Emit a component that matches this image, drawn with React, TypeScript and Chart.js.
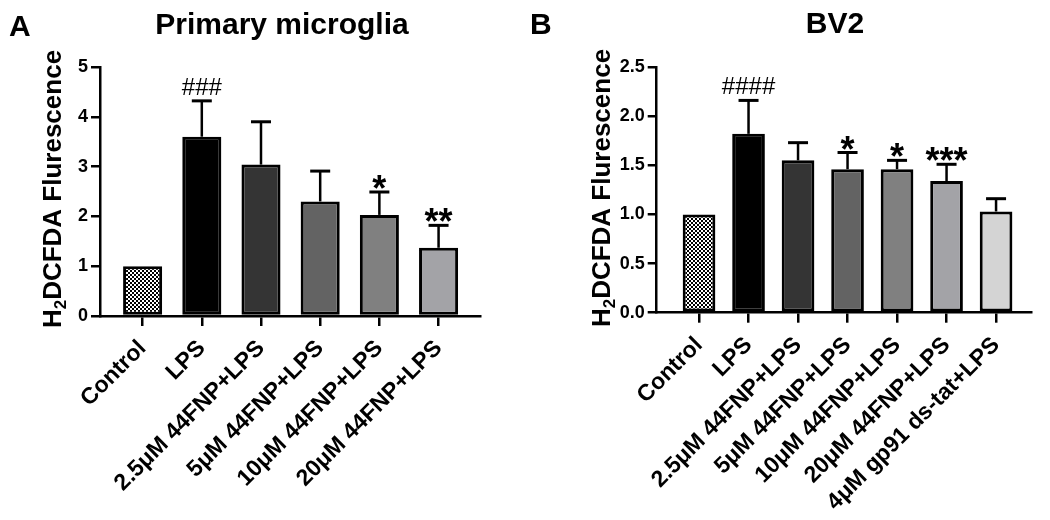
import React, { useEffect, useRef } from 'react';
import { Chart, registerables } from 'chart.js';

Chart.register(...registerables);

// ---------- DATA ----------
const categoriesA = ['Control', 'LPS', '2.5μM 44FNP+LPS', '5μM 44FNP+LPS', '10μM 44FNP+LPS', '20μM 44FNP+LPS'];
const meansA = [1.0, 3.6, 3.04, 2.3, 2.03, 1.37];
const sdA = [0, 0.72, 0.86, 0.61, 0.46, 0.45];
const sigA = ['', '###', '', '', '*', '**'];
const yTicksA = [0, 1, 2, 3, 4, 5];

const categoriesB = ['Control', 'LPS', '2.5μM 44FNP+LPS', '5μM 44FNP+LPS', '10μM 44FNP+LPS', '20μM 44FNP+LPS', '4μM gp91 ds-tat+LPS'];
const meansB = [1.0, 1.82, 1.55, 1.46, 1.46, 1.34, 1.03];
const sdB = [0, 0.34, 0.18, 0.17, 0.09, 0.17, 0.13];
const sigB = ['', '####', '', '*', '*', '***', ''];
const yTicksB = [0, 0.5, 1.0, 1.5, 2.0, 2.5];

const FONT = '"Liberation Sans", Arial, Helvetica, sans-serif';
const W = 525;
const H = 520;

type PanelProps = {
  letter: string;
  title: string;
  categories: string[];
  means: number[];
  sd: number[];
  sig: string[];
  yTicks: number[];
  decimals: number;
  colors: string[];
  geom: {
    left: number; right: number; top: number; axisY: number;
    xMin: number; xMax: number;
    titleX: number; titleY: number; letterX: number; letterY: number;
    yTitleX: number; yTitleY: number;
  };
};

function Panel(p: PanelProps) {
  const ref = useRef<HTMLCanvasElement | null>(null);
  useEffect(() => {
    const canvas = ref.current!;
    const ctx = canvas.getContext('2d')!;
    const pc = document.createElement('canvas');
    pc.width = 4; pc.height = 4;
    const pctx = pc.getContext('2d')!;
    pctx.fillStyle = '#fff'; pctx.fillRect(0, 0, 4, 4);
    pctx.fillStyle = '#000'; pctx.fillRect(0, 0, 2, 2); pctx.fillRect(2, 2, 2, 2);
    const pattern = ctx.createPattern(pc, 'repeat')!;
    const bg = p.colors.map((c) => (c === 'pattern' ? pattern : c));
    const g = p.geom;
    const yMax = p.yTicks[p.yTicks.length - 1];

    const overlay = {
      id: 'overlay',
      afterDatasetsDraw(chart: any) {
        const c = chart.ctx;
        const meta = chart.getDatasetMeta(0);
        const ys = chart.scales.y;
        c.save();
        c.strokeStyle = '#000';
        c.fillStyle = '#000';
        p.means.forEach((m, i) => {
          const el = meta.data[i];
          const x = el.x;
          const yTop = el.y;
          let yRef = yTop;
          if (p.sd[i] > 0) {
            const yErr = ys.getPixelForValue(m + p.sd[i]);
            c.lineWidth = 2.5;
            c.beginPath(); c.moveTo(x, yTop); c.lineTo(x, yErr); c.stroke();
            c.lineWidth = 3;
            c.beginPath(); c.moveTo(x - 10, yErr); c.lineTo(x + 10, yErr); c.stroke();
            yRef = yErr;
          }
          const s = p.sig[i];
          if (s) {
            c.textAlign = 'center';
            c.textBaseline = 'alphabetic';
            const isHash = s[0] === '#';
            c.font = isHash ? `24px ${FONT}` : `bold 36px ${FONT}`;
            const mt = c.measureText(s);
            const gap = isHash ? 6 : 3;
            c.fillText(s, x, yRef - gap - mt.actualBoundingBoxDescent);
          }
        });
        c.restore();
      },
      afterDraw(chart: any) {
        const c = chart.ctx;
        c.save();
        c.fillStyle = '#000';
        c.textBaseline = 'alphabetic';
        c.textAlign = 'left';
        c.font = `bold 30px ${FONT}`;
        c.fillText(p.letter, g.letterX, g.letterY);
        c.textAlign = 'center';
        c.font = `bold 30px ${FONT}`;
        c.fillText(p.title, g.titleX, g.titleY);
        // y-axis title with subscript
        const big = `bold 26px ${FONT}`;
        const small = `bold 17px ${FONT}`;
        c.font = big; const wH = c.measureText('H').width;
        c.font = small; const w2 = c.measureText('2').width;
        c.font = big; const rest = 'DCFDA Flurescence'; const wR = c.measureText(rest).width;
        const total = wH + w2 + wR;
        c.translate(g.yTitleX, g.yTitleY);
        c.rotate(-Math.PI / 2);
        c.textAlign = 'left';
        let x0 = -total / 2;
        c.font = big; c.fillText('H', x0, 0); x0 += wH;
        c.font = small; c.fillText('2', x0, 5); x0 += w2;
        c.font = big; c.fillText(rest, x0, 0);
        c.restore();
      },
    };

    const chart = new Chart(canvas, {
      type: 'bar',
      data: {
        datasets: [{
          data: p.means.map((v, i) => ({ x: i, y: v })),
          backgroundColor: bg as any,
          borderColor: '#000',
          borderWidth: 3,
          borderSkipped: false,
          categoryPercentage: 1,
          barPercentage: 0.66,
        }],
      },
      options: {
        animation: false,
        responsive: false,
        maintainAspectRatio: false,
        layout: { padding: { top: g.top, right: g.right, left: 0, bottom: 0 } },
        plugins: { legend: { display: false }, tooltip: { enabled: false }, title: { display: false } },
        scales: {
          x: {
            type: 'linear',
            min: g.xMin,
            max: g.xMax,
            offset: false,
            afterBuildTicks: (s: any) => { s.ticks = p.categories.map((_, i) => ({ value: i })); },
            afterFit: (s: any) => { s.height = H - g.axisY; },
            ticks: {
              autoSkip: false,
              maxRotation: 45,
              minRotation: 45,
              padding: 9,
              color: '#000',
              font: { family: FONT, size: 23, weight: 'bold' },
              callback: (v: any) => p.categories[Math.round(v)] ?? '',
            },
            grid: { offset: false, drawOnChartArea: false, drawTicks: true, tickLength: 10, color: '#000', lineWidth: 2.5 },
            border: { color: '#000', width: 2.5 },
          },
          y: {
            min: 0,
            max: yMax,
            afterBuildTicks: (s: any) => { s.ticks = p.yTicks.map((v) => ({ value: v })); },
            afterFit: (s: any) => { s.width = g.left; },
            ticks: {
              padding: 3,
              color: '#000',
              font: { family: FONT, size: 18, weight: 'bold' },
              callback: (v: any) => Number(v).toFixed(p.decimals),
            },
            grid: { drawOnChartArea: false, drawTicks: true, tickLength: 9, color: '#000', lineWidth: 2.5 },
            border: { color: '#000', width: 2.5 },
          },
        },
      } as any,
      plugins: [overlay],
    });
    return () => chart.destroy();
  }, []);
  return <canvas ref={ref} width={W} height={H} style={{ width: W, height: H, display: 'block' }} />;
}

export default function App() {
  return (
    <div style={{ position: 'fixed', left: 0, top: 0, width: 1050, height: 520, background: '#fff', display: 'flex' }}>
      <Panel
        letter="A"
        title="Primary microglia"
        categories={categoriesA}
        means={meansA}
        sd={sdA}
        sig={sigA}
        yTicks={yTicksA}
        decimals={0}
        colors={['pattern', '#000000', '#343434', '#636363', '#808080', '#a3a3a7']}
        geom={{ left: 100, right: 45, top: 67, axisY: 316, xMin: -0.72, xMax: 5.7, titleX: 282, titleY: 34, letterX: 9, letterY: 36, yTitleX: 61, yTitleY: 189 }}
      />
      <Panel
        letter="B"
        title="BV2"
        categories={categoriesB}
        means={meansB}
        sd={sdB}
        sig={sigB}
        yTicks={yTicksB}
        decimals={1}
        colors={['pattern', '#000000', '#343434', '#636363', '#808080', '#a3a3a7', '#d4d4d4']}
        geom={{ left: 131.7, right: 18.3, top: 67, axisY: 312.7, xMin: -0.855, xMax: 6.72, titleX: 310, titleY: 33, letterX: 5, letterY: 34, yTitleX: 85, yTitleY: 188 }}
      />
    </div>
  );
}
